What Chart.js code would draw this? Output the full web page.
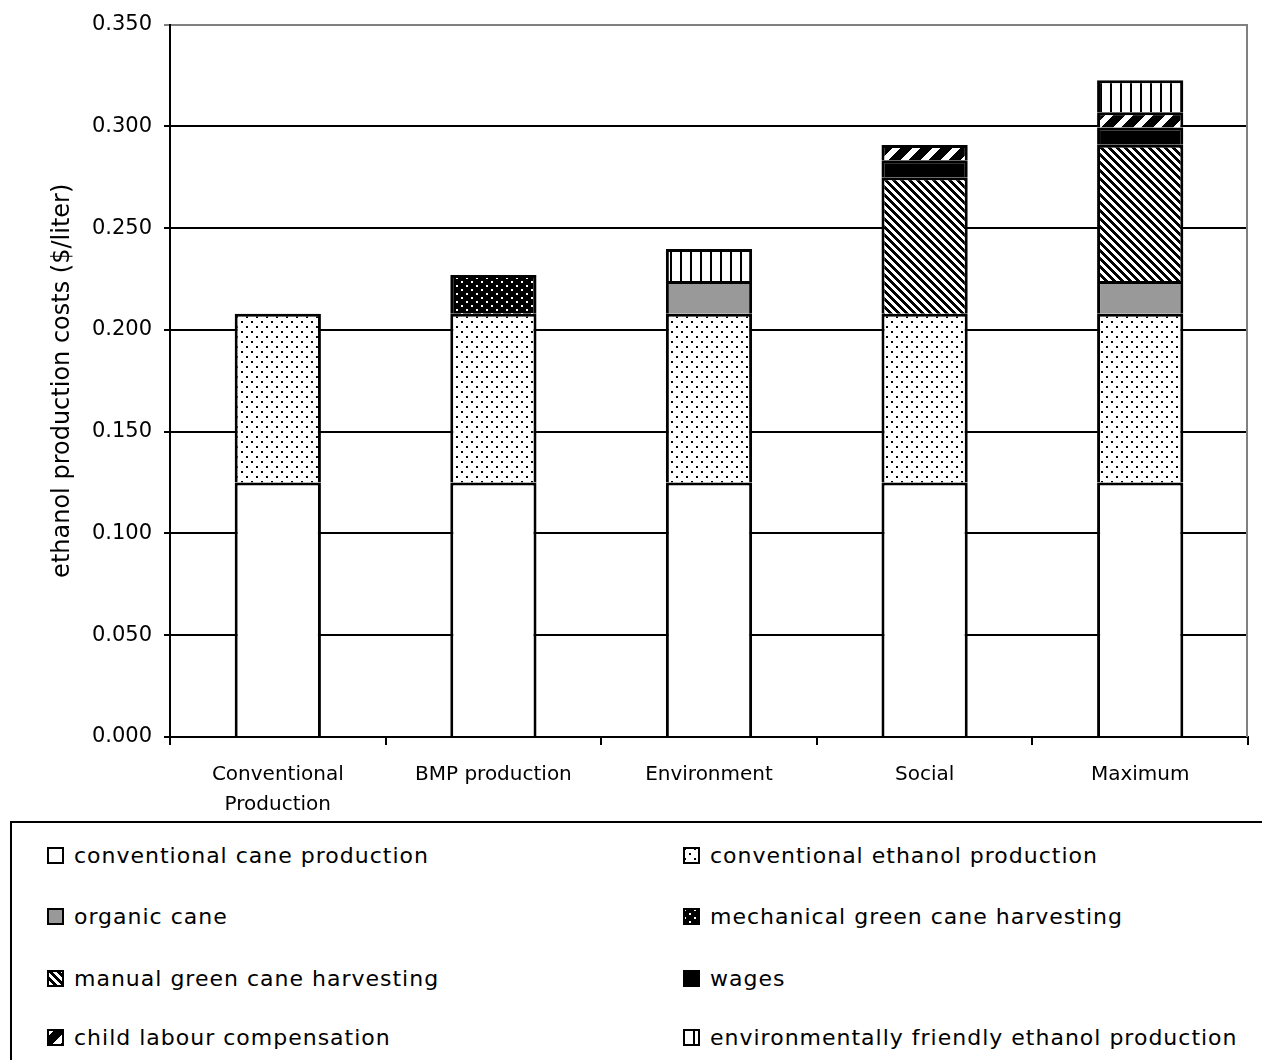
<!DOCTYPE html>
<html>
<head>
<meta charset="utf-8">
<script src="https://cdn.jsdelivr.net/npm/chart.js@4.4.1/dist/chart.umd.min.js"></script>
<style>
  html, body { margin: 0; padding: 0; background: #fff; }
  body { width: 1262px; height: 1060px; overflow: hidden; position: relative; font-family: "DejaVu Sans", sans-serif; }
  #wrap { position: absolute; left: 0; top: 0; width: 1262px; height: 820px; }
  #legend { position: absolute; left: 10px; top: 821px; width: 1280px; height: 260px; border: 2px solid #000; box-sizing: border-box; }
  .item { position: absolute; height: 26px; display: flex; align-items: center; font-size: 22px; letter-spacing: 1px; color: #000; white-space: nowrap; }
  .item canvas { width: 17px; height: 17px; margin-right: 10px; display: block; }
</style>
</head>
<body>
<div id="wrap"><canvas id="chart"></canvas></div>
<div id="legend"></div>
<script>
// Scenario categories along the x axis
const categories = [["Conventional", "Production"], "BMP production", "Environment", "Social", "Maximum"];

// Cost components ($/liter), stacked bottom to top
const caneProduction    = [0.125, 0.125, 0.125, 0.125, 0.125];
const ethanolProduction = [0.083, 0.083, 0.083, 0.083, 0.083];
const organicCane       = [null, null, 0.016, null, 0.016];
const mechanicalHarvest = [null, 0.019, null, null, null];
const manualHarvest     = [null, null, null, 0.067, 0.067];
const wages             = [null, null, null, 0.0083, 0.0085];
const childLabour       = [null, null, null, 0.0075, 0.0074];
const envFriendly       = [null, null, 0.0157, null, 0.0157];

const seriesNames = [
  "conventional cane production",
  "conventional ethanol production",
  "organic cane",
  "mechanical green cane harvesting",
  "manual green cane harvesting",
  "wages",
  "child labour compensation",
  "environmentally friendly ethanol production"
];
const seriesValues = [caneProduction, ethanolProduction, organicCane, mechanicalHarvest,
                      manualHarvest, wages, childLabour, envFriendly];

// Y axis ticks
const yTicks = [0, 0.05, 0.10, 0.15, 0.20, 0.25, 0.30, 0.35];

// ---- fill patterns ----
function tile(w, h, paint) {
  const c = document.createElement('canvas');
  c.width = w; c.height = h;
  const g = c.getContext('2d');
  paint(g, w, h);
  return c;
}
function pixelFill(w, h, test) {
  return tile(w, h, (g) => {
    g.fillStyle = '#fff'; g.fillRect(0, 0, w, h);
    g.fillStyle = '#000';
    for (let y = 0; y < h; y++) for (let x = 0; x < w; x++) if (test(x, y)) g.fillRect(x, y, 1, 1);
  });
}
const tiles = {
  blank: tile(4, 4, (g) => { g.fillStyle = '#fff'; g.fillRect(0, 0, 4, 4); }),
  dots: tile(10, 10, (g) => {
    g.fillStyle = '#fff'; g.fillRect(0, 0, 10, 10);
    g.fillStyle = '#000'; g.fillRect(1, 1, 2, 2); g.fillRect(6, 6, 2, 2);
  }),
  grey: tile(4, 4, (g) => { g.fillStyle = '#999999'; g.fillRect(0, 0, 4, 4); }),
  darkDots: tile(10, 8, (g) => {
    g.fillStyle = '#000'; g.fillRect(0, 0, 10, 8);
    g.fillStyle = '#fff'; g.fillRect(1, 1, 2, 2); g.fillRect(6, 5, 2, 2);
  }),
  backDiag: pixelFill(8, 8, (x, y) => (((x - y) % 8) + 8) % 8 < 4),
  solid: tile(4, 4, (g) => { g.fillStyle = '#000'; g.fillRect(0, 0, 4, 4); }),
  wideDiag: pixelFill(20, 20, (x, y) => ((x + y) % 20) >= 8),
  vertical: tile(10, 4, (g) => {
    g.fillStyle = '#fff'; g.fillRect(0, 0, 10, 4);
    g.fillStyle = '#000'; g.fillRect(0, 0, 2, 4);
  })
};
const tileOrder = ['blank', 'dots', 'grey', 'darkDots', 'backDiag', 'solid', 'wideDiag', 'vertical'];
const patCtx = document.createElement('canvas').getContext('2d');
const fills = tileOrder.map(k => patCtx.createPattern(tiles[k], 'repeat'));

// each segment carries its own top edge, so stacked boundaries read as one solid line
const datasets = seriesNames.map((name, i) => ({
  label: name,
  data: seriesValues[i],
  backgroundColor: fills[i],
  borderColor: '#000',
  borderWidth: { top: 3, bottom: 0, left: 3, right: 3 },
  borderSkipped: false,
  inflateAmount: 0,
  barPercentage: 0.4,
  categoryPercentage: 1.0
}));

// grey frame on the right side of the plot
const frameRight = {
  id: 'frameRight',
  beforeDatasetsDraw(chart) {
    const { ctx, chartArea } = chart;
    ctx.save();
    ctx.strokeStyle = '#808080';
    ctx.lineWidth = 2;
    ctx.beginPath();
    ctx.moveTo(chartArea.right - 1, chartArea.top);
    ctx.lineTo(chartArea.right - 1, chartArea.bottom);
    ctx.stroke();
    ctx.restore();
  }
};

Chart.defaults.font.family = '"DejaVu Sans", sans-serif';
Chart.defaults.color = '#000';

new Chart(document.getElementById('chart'), {
  type: 'bar',
  data: { labels: categories, datasets },
  options: {
    responsive: true,
    maintainAspectRatio: false,
    animation: false,
    layout: { padding: { top: 23, right: 14, left: 0, bottom: 0 } },
    plugins: { legend: { display: false }, tooltip: { enabled: false } },
    scales: {
      x: {
        stacked: true,
        grid: { display: true, drawOnChartArea: false, drawTicks: true, tickLength: 8, offset: true, color: '#000', lineWidth: 2 },
        border: { color: '#000', width: 2 },
        ticks: { font: { size: 20, lineHeight: 1.5 }, color: '#000', padding: 15, maxRotation: 0, autoSkip: false },
        afterFit(scale) { scale.height = 83; }
      },
      y: {
        stacked: true,
        min: 0,
        max: 0.35,
        afterBuildTicks(scale) { scale.ticks = yTicks.map(v => ({ value: v })); },
        grid: {
          color: (c) => (c.tick && c.tick.value === 0.35 ? '#808080' : '#000'),
          lineWidth: 2,
          tickLength: 6,
          drawTicks: true
        },
        border: { color: '#000', width: 2 },
        ticks: { font: { size: 21 }, color: '#000', padding: 12, callback: (v) => Number(v).toFixed(3) },
        title: {
          display: true,
          text: 'ethanol production costs ($/liter)',
          font: { size: 24 },
          color: '#000',
          padding: { top: 48, bottom: 0 }
        },
        afterFit(scale) { scale.width = 170; }
      }
    }
  },
  plugins: [frameRight]
});

// legend: two columns, patterns shared with the bars
const legend = document.getElementById('legend');
const colLeft = [35, 671];
const rowTop = [19, 80, 142, 201];
seriesNames.forEach((name, i) => {
  const item = document.createElement('div');
  item.className = 'item';
  item.style.left = colLeft[i % 2] + 'px';
  item.style.top = rowTop[Math.floor(i / 2)] + 'px';
  const sw = document.createElement('canvas');
  sw.width = 17; sw.height = 17;
  const g = sw.getContext('2d');
  g.fillStyle = g.createPattern(tiles[tileOrder[i]], 'repeat');
  g.fillRect(0, 0, 17, 17);
  g.strokeStyle = '#000';
  g.lineWidth = 2;
  g.strokeRect(1, 1, 15, 15);
  item.appendChild(sw);
  const label = document.createElement('span');
  label.textContent = name;
  item.appendChild(label);
  legend.appendChild(item);
});
</script>
</body>
</html>
